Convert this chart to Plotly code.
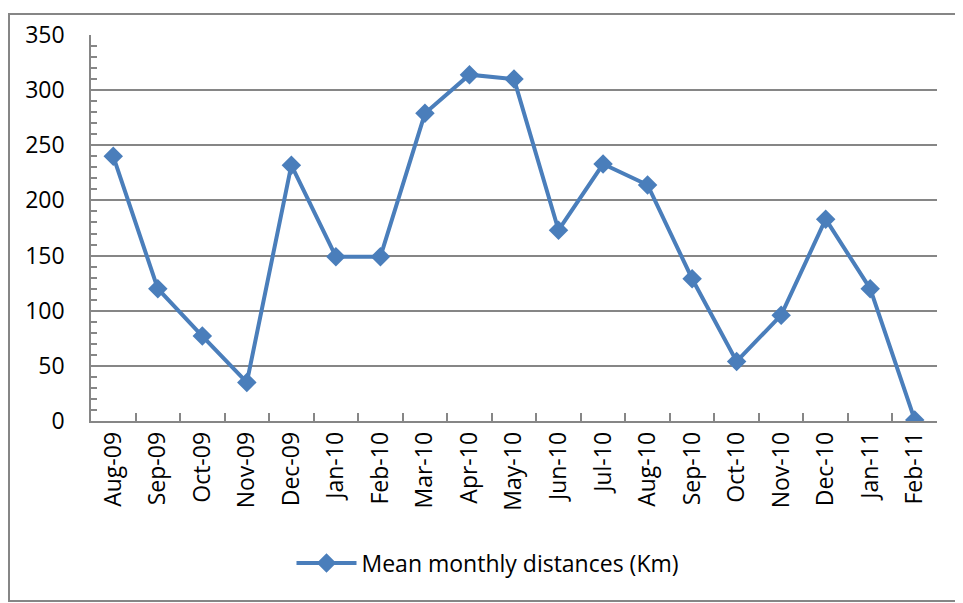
import plotly.graph_objects as go

months = ["Aug-09", "Sep-09", "Oct-09", "Nov-09", "Dec-09", "Jan-10", "Feb-10",
          "Mar-10", "Apr-10", "May-10", "Jun-10", "Jul-10", "Aug-10", "Sep-10",
          "Oct-10", "Nov-10", "Dec-10", "Jan-11", "Feb-11"]
distances = [240, 120, 77, 35, 232, 149, 149, 279, 314, 310, 173, 233, 214, 129,
             54, 96, 183, 120, 1]
series_name = "Mean monthly distances (Km)"

OFF = 8  # page body offset
W, H = 963, 603
L, R, T, B = 91 - OFF, 937 - OFF, 35 - OFF, 421 - OFF

def px(x):
    return (x - OFF - L) / (R - L)

def py(y):
    return (B - (y - OFF)) / (B - T)

blue = "#4A7EBB"
gray = "#868686"
font = "'Open Sans', 'Noto Sans', Arial, sans-serif"
fs = 23

fig = go.Figure()
fig.add_trace(go.Scatter(
    x=months, y=distances, name=series_name, mode="lines+markers",
    line=dict(color=blue, width=4),
    marker=dict(symbol="diamond", size=15, color=blue),
    showlegend=True,
))

fig.update_layout(
    width=W, height=H,
    margin=dict(l=L, r=W - R, t=T, b=H - B, autoexpand=False),
    paper_bgcolor="white", plot_bgcolor="white",
    font=dict(family=font, size=fs, color="black"),
    showlegend=True,
    legend=dict(orientation="h", x=px(488), y=py(563), xanchor="center",
                yanchor="middle", font=dict(size=fs, family=font),
                itemwidth=60, bgcolor="rgba(0,0,0,0)"),
    xaxis=dict(
        type="category", tickangle=-90, showgrid=False, automargin=False,
        showline=True, linecolor=gray, linewidth=1.5,
        ticks="inside", ticklen=8, tickcolor=gray, tickwidth=1.5,
        tickson="boundaries", tickfont=dict(size=fs),
        range=[-0.5, len(months) - 0.5], fixedrange=True,
    ),
    yaxis=dict(
        range=[0, 350], dtick=50, tick0=0, automargin=False,
        showgrid=True, gridcolor=gray, gridwidth=1.5,
        showline=True, linecolor=gray, linewidth=1.5,
        ticks="inside", ticklen=6, tickcolor=gray, tickwidth=1.5,
        ticklabelstandoff=20, tickfont=dict(size=fs),
        minor=dict(dtick=10, ticks="inside", ticklen=6, tickcolor=gray, showgrid=False),
        zeroline=False, fixedrange=True,
    ),
    shapes=[
        dict(type="rect", xref="paper", yref="paper", layer="below",
             x0=px(9), x1=px(990), y0=py(14), y1=py(601),
             line=dict(color=gray, width=2), fillcolor="rgba(0,0,0,0)"),
    ],
)

fig.write_html("out.html")
